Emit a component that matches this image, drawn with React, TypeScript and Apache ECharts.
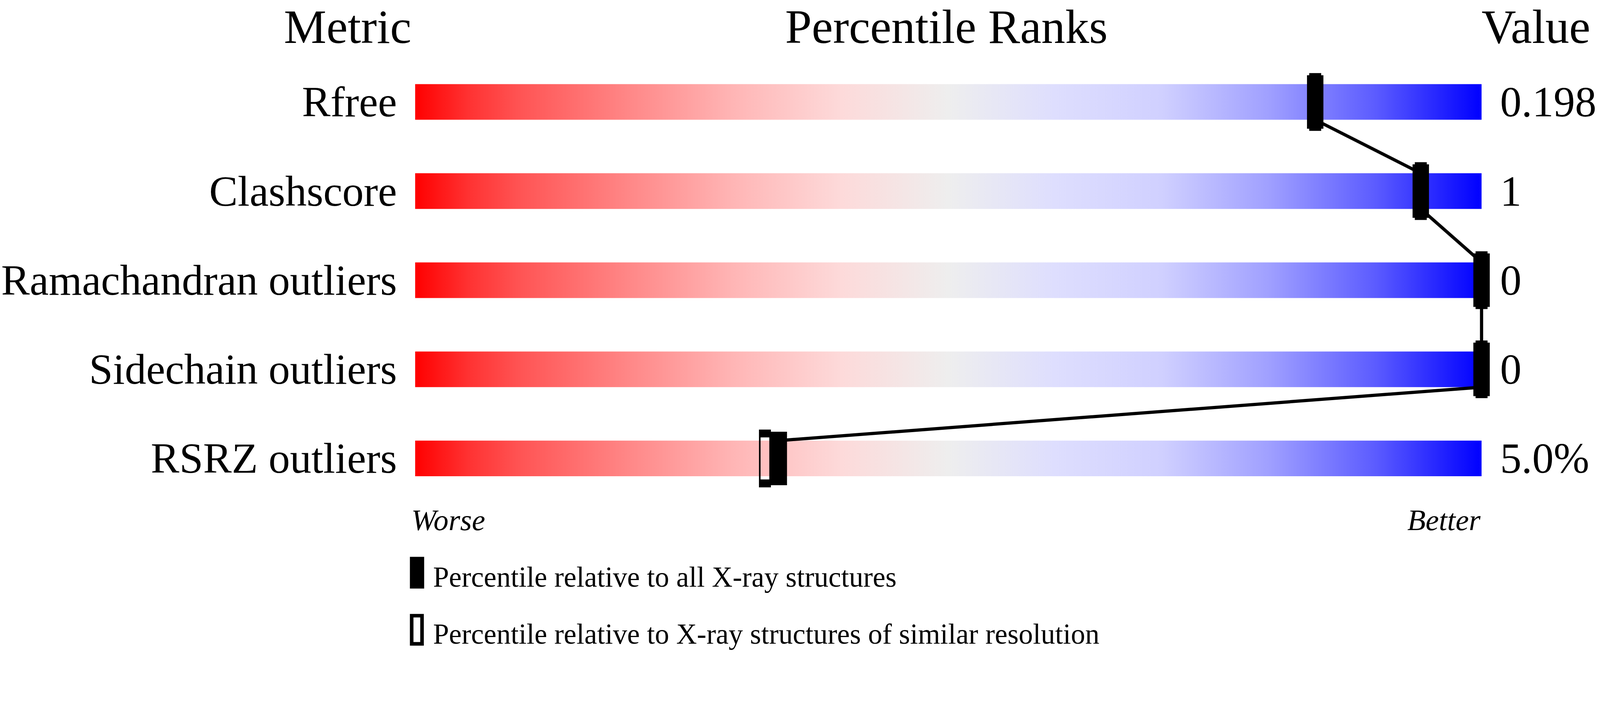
import React, { useEffect, useRef } from "react";
import * as echarts from "echarts";

const metrics = ["Rfree", "Clashscore", "Ramachandran outliers", "Sidechain outliers", "RSRZ outliers"];
const valueLabels = ["0.198", "1", "0", "0", "5.0%"];
const percentileAll = [84.4, 94.3, 100, 100, 34.1];
const percentileSimilar = [84.4, 94.3, 100, 100, 32.8];
const headers = ["Metric", "Percentile Ranks", "Value"];
const scaleEnds = ["Worse", "Better"];
const legendLabels = [
  "Percentile relative to all X-ray structures",
  "Percentile relative to X-ray structures of similar resolution",
];

const FONT = '"Liberation Serif", "Times New Roman", Times, serif';
const DW = 4485;
const DH = 1824;

export default function App() {
  const ref = useRef<HTMLDivElement>(null);
  useEffect(() => {
    if (!ref.current) return;
    const vw = window.innerWidth || DW;
    const vh = window.innerHeight || DH;
    const k = Math.min(vw / DW, vh / DH);
    const W = DW * k;
    const H = DH * k;
    const s = (v: number) => v * k;
    ref.current.style.width = W + "px";
    ref.current.style.height = H + "px";
    const chart = echarts.init(ref.current, undefined, { renderer: "svg", width: W, height: H });

    const BAR_H = s(100);
    const gradient = new echarts.graphic.LinearGradient(0, 0, 1, 0, [
      { offset: 0, color: "rgb(255,0,0)" },
      { offset: 0.05, color: "rgb(255,50,50)" },
      { offset: 0.1, color: "rgb(255,85,85)" },
      { offset: 0.2, color: "rgb(255,135,135)" },
      { offset: 0.3, color: "rgb(255,182,182)" },
      { offset: 0.4, color: "rgb(253,218,218)" },
      { offset: 0.5, color: "rgb(238,238,238)" },
      { offset: 0.6, color: "rgb(222,222,254)" },
      { offset: 0.7, color: "rgb(208,208,255)" },
      { offset: 0.8, color: "rgb(160,160,255)" },
      { offset: 0.9, color: "rgb(92,92,255)" },
      { offset: 1, color: "rgb(0,0,255)" },
    ]);

    const lineData = percentileAll.slice(0, -1).map((p, i) => [p, i, percentileAll[i + 1], i + 1]);

    const labelStyle = {
      fontFamily: FONT,
      fontSize: s(120),
      color: "#000",
      padding: [s(19), 0, 0, 0],
    };

    const txt = (text: string, x: number, y: number, size: number, align: string, extra: any = {}) => ({
      type: "text",
      x: s(x),
      y: s(y),
      style: {
        text,
        fontFamily: FONT,
        fontSize: s(size),
        lineHeight: s(size * 0.7),
        fill: "#000",
        align,
        textAlign: align,
        verticalAlign: "middle",
        textVerticalAlign: "middle",
        ...extra,
      },
    });

    chart.setOption({
      animation: false,
      backgroundColor: "#fff",
      grid: { left: s(1153), right: s(DW - 4153), top: s(161), bottom: s(DH - 1411), containLabel: false },
      xAxis: { type: "value", min: 0, max: 100, show: false },
      yAxis: [
        {
          type: "category",
          data: metrics,
          inverse: true,
          position: "left",
          axisLine: { show: false },
          axisTick: { show: false },
          splitLine: { show: false },
          axisLabel: { ...labelStyle, margin: s(51) },
        },
        {
          type: "category",
          data: valueLabels,
          inverse: true,
          position: "right",
          axisLine: { show: false },
          axisTick: { show: false },
          splitLine: { show: false },
          axisLabel: { ...labelStyle, margin: s(52) },
        },
      ],
      series: [
        {
          type: "bar",
          yAxisIndex: 0,
          data: metrics.map(() => 100),
          barWidth: BAR_H,
          silent: true,
          itemStyle: { color: gradient },
          z: 1,
        },
        {
          type: "custom",
          yAxisIndex: 0,
          data: lineData,
          encode: { x: [0, 2], y: [1, 3] },
          silent: true,
          z: 2,
          renderItem: (params: any, api: any) => {
            const a = api.coord([api.value(0), api.value(1)]);
            const b = api.coord([api.value(2), api.value(3)]);
            return {
              type: "line",
              shape: { x1: a[0], y1: a[1] + BAR_H / 2, x2: b[0], y2: b[1] - BAR_H / 2 },
              style: { stroke: "#000", lineWidth: s(9) },
            };
          },
        },
        {
          type: "scatter",
          name: legendLabels[1],
          yAxisIndex: 0,
          data: percentileSimilar.map((p, i) => [p, i]),
          symbol: "rect",
          symbolSize: [s(29), s(140)],
          silent: true,
          itemStyle: { color: "rgba(0,0,0,0)", borderColor: "#000", borderWidth: s(10), opacity: 1 },
          z: 3,
        },
        {
          type: "scatter",
          name: legendLabels[0],
          yAxisIndex: 0,
          data: percentileAll.map((p, i) => [p, i]),
          symbol: "rect",
          symbolSize: [s(46), s(150)],
          silent: true,
          itemStyle: { color: "#000", opacity: 1 },
          z: 4,
        },
      ],
      graphic: [
        txt(headers[0], 1153, 75, 134, "right"),
        txt(headers[1], 2653, 75, 134, "center"),
        txt(headers[2], 4153, 75, 134, "left"),
        txt(scaleEnds[0], 1153, 1459, 84, "left", { fontStyle: "italic" }),
        txt(scaleEnds[1], 4150, 1459, 84, "right", { fontStyle: "italic" }),
        {
          type: "rect",
          shape: { x: s(1149), y: s(1562), width: s(40), height: s(89) },
          style: { fill: "#000" },
        },
        txt(legendLabels[0], 1214, 1619, 80, "left"),
        {
          type: "rect",
          shape: { x: s(1154), y: s(1727), width: s(29), height: s(79) },
          style: { fill: "none", stroke: "#000", lineWidth: s(10) },
        },
        txt(legendLabels[1], 1214, 1779, 80, "left"),
      ],
    });
    return () => chart.dispose();
  }, []);

  return (
    <div
      ref={ref}
      style={{ position: "fixed", left: 0, top: 0, width: DW, height: DH, background: "#fff" }}
    />
  );
}
